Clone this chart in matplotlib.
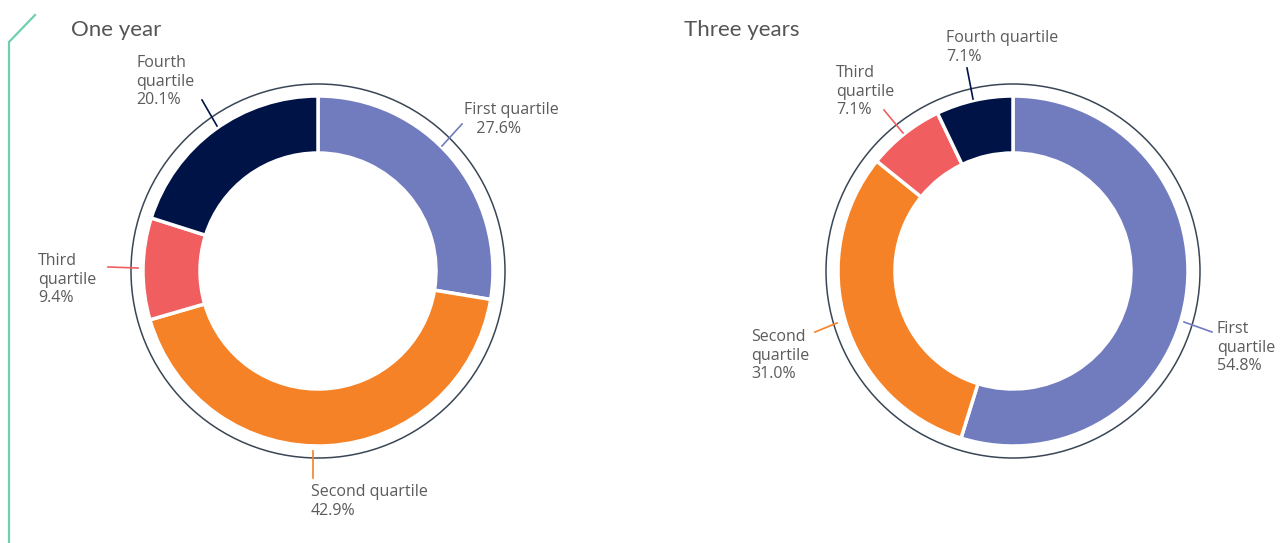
import matplotlib.pyplot as plt
from matplotlib.patches import Circle
from matplotlib.lines import Line2D

W, H = 1284, 543

categories = ['First quartile', 'Second quartile', 'Third quartile', 'Fourth quartile']
one_year = [27.6, 42.9, 9.4, 20.1]
three_years = [54.8, 31.0, 7.1, 7.1]
colors = ['#717cbf', '#f58226', '#f05e5f', '#001346']

# label text per chart (text, x offset, y offset from centre in px, leader line pts)
labels_one = [
    ('First quartile\n   27.6%', 146, 169, [(124, 125), (144, 147)]),
    ('Second quartile\n42.9%', -7, -213, [(-5, -180), (-5, -207)]),
    ('Third\nquartile\n9.4%', -280, 18, [(-180, 3), (-210, 4)]),
    ('Fourth\nquartile\n20.1%', -182, 216, [(-101, 145), (-116, 171)]),
]
labels_three = [
    ('First\nquartile\n54.8%', 204, -50, [(171, -51), (199, -61)]),
    ('Second\nquartile\n31.0%', -262, -58, [(-176, -52), (-198, -61)]),
    ('Third\nquartile\n7.1%', -177, 206, [(-110, 138), (-129, 161)]),
    ('Fourth quartile\n7.1%', -67, 241, [(-40, 172), (-46, 203)]),
]

plt.rcParams['font.family'] = ['Open Sans', 'DejaVu Sans']
fig = plt.figure(figsize=(W / 100, H / 100), dpi=100)

txt_col = '#5b5b5b'


def donut(cx, cy, vals, labs, title, tx):
    ax = fig.add_axes([(cx - 300) / W, (H - cy - 300) / H, 600 / W, 600 / H])
    ax.axis('off')
    ax.pie(vals, colors=colors, startangle=90, counterclock=False, radius=175,
           wedgeprops=dict(width=57, edgecolor='white', linewidth=2.5))
    ax.set_xlim(-300, 300)
    ax.set_ylim(-300, 300)
    ax.set_aspect('equal')
    ax.add_patch(Circle((0, 0), 187, fill=False, edgecolor='#3a4655', linewidth=1.1))
    for (t, lx, ly, pts), c in zip(labs, colors):
        ax.add_line(Line2D([pts[0][0], pts[1][0]], [pts[0][1], pts[1][1]], color=c, lw=1.2))
        ax.text(lx, ly, t, ha='left', va='top', fontsize=11.5, color=txt_col,
                linespacing=1.22, clip_on=False)
    fig.text(tx / W, 1 - 30 / H, title, fontsize=16, color='#555555', va='center', ha='left',
             family=['Lato', 'DejaVu Sans'])


donut(318, 271, one_year, labels_one, 'One year', 71)
donut(1013, 271, three_years, labels_three, 'Three years', 684)

# green accent line at left
fig.add_artist(Line2D([35 / W, 9 / W, 9 / W], [1 - 15 / H, 1 - 42 / H, 0], color='#6fcfaf', lw=1.6))

fig.savefig('out.png', dpi=100)
